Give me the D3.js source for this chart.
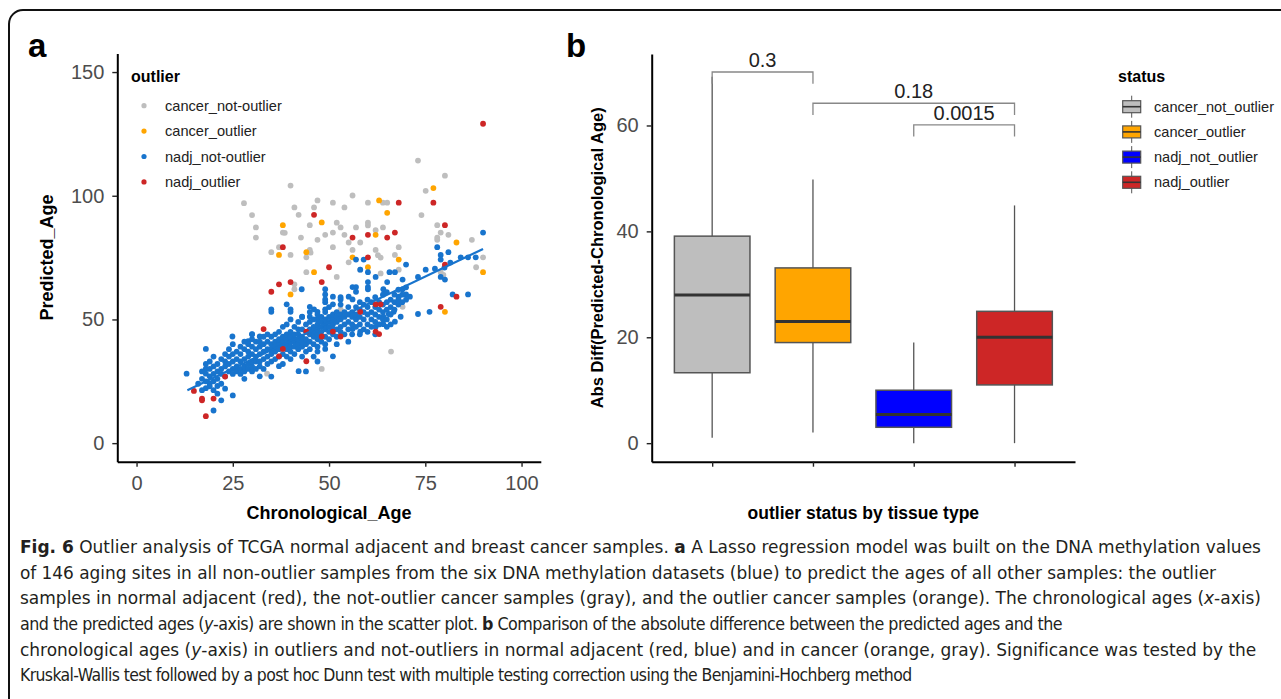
<!DOCTYPE html>
<html>
<head>
<meta charset="utf-8">
<script src="https://cdn.jsdelivr.net/npm/d3@7"></script>
<style>
body { margin: 0; background: #fff; }
svg { display: block; font-family: "Liberation Sans", Arial, sans-serif; }
</style>
</head>
<body>
<div id="fig"></div>
<script>

/*
 *  Data
 */

// panel a - scatter (chronological age, predicted age)
var groupNames = ["cancer_not-outlier", "cancer_outlier", "nadj_not-outlier", "nadj_outlier"];
var groupColors = ["#BEBEBE", "#FFA500", "#1874CD", "#CD2626"];

var grayPts = [
    [73.1,114.2],[80.1,108.1],[40.0,104.1],[27.9,97.0],[47.0,98.1],[51.0,97.2],[56.1,100.1],[60.1,97.2],
    [64.0,97.2],[65.1,97.2],[75.1,102.0],[30.0,92.2],[31.0,87.2],[31.0,83.1],[41.0,95.3],[42.1,92.3],
    [46.1,95.3],[45.0,88.1],[52.0,89.1],[54.0,95.3],[53.0,87.2],[57.0,87.2],[60.1,89.1],[60.1,88.0],
    [62.1,86.1],[64.0,87.2],[74.0,92.2],[78.1,88.1],[79.0,85.1],[78.1,83.1],[78.1,82.2],[81.0,84.2],
    [87.1,82.2],[38.0,85.1],[42.7,83.1],[47.0,82.2],[49.0,84.2],[51.0,85.1],[54.0,84.2],[55.1,81.1],
    [58.1,81.1],[35.0,77.2],[37.0,79.2],[40.0,76.1],[44.1,75.1],[45.0,78.1],[51.0,79.2],[56.1,78.1],
    [55.1,73.1],[62.1,78.1],[62.7,76.0],[63.4,75.0],[67.1,76.1],[68.1,79.2],[88.2,71.1],[90.0,75.1],
    [79.0,69.1],[79.7,68.0],[41.0,64.2],[41.0,62.2],[44.1,69.1],[52.0,67.2],[58.1,70.1],[63.4,68.6],
    [68.1,70.1],[69.1,55.1],[66.1,37.0],[48.1,30.0],[33.9,28.1],[53.0,54.1],[38.5,85.0],[45.2,77.0]
];

var orangePts = [
    [77.1,103.1],[63.0,98.1],[65.1,93.1],[38.0,88.1],[48.1,89.2],[62.1,84.2],[83.1,81.1],[37.0,76.1],
    [44.1,77.2],[56.1,75.1],[60.1,71.1],[68.1,74.2],[46.1,69.1],[40.0,60.1],[90.0,69.1],[80.1,53.1]
];

var bluePts = [
    // loose points around the band
    [90.0,85.1],[78.1,79.2],[81.0,77.2],[79.0,76.1],[79.0,74.2],[70.0,72.2],[75.1,70.1],[73.1,67.2],
    [84.2,75.1],[86.1,75.1],[88.1,75.1],[79.0,67.2],[80.1,66.1],[82.1,60.1],[86.1,60.1],[73.1,52.2],
    [76.1,53.1],[57.0,74.2],[59.0,74.2],[58.1,70.1],[60.1,69.1],[62.1,67.2],[65.7,69.1],[67.1,69.1],
    [65.1,65.1],[69.1,66.1],[69.1,62.2],[70.0,60.1],[68.1,59.2],[56.1,63.1],[57.0,63.1],[57.0,61.2],
    [60.1,65.1],[60.1,63.1],[60.1,62.2],[64.1,62.2],[42.9,62.2],[49.0,62.2],[49.0,60.1],[49.0,58.1],
    [51.0,59.2],[53.0,58.1],[51.0,56.1],[55.1,59.2],[56.1,58.1],[35.0,54.1],[35.0,53.1],[39.0,56.1],
    [40.0,54.1],[40.0,53.1],[45.0,55.1],[46.1,54.1],[47.0,53.1],[49.0,54.1],[43.0,51.1],[45.0,51.1],
    [47.0,50.1],[66.8,53.1],[64.1,51.1],[65.5,52.2],[71.0,59.2],[67.1,49.1],[68.6,51.1],[58.1,45.1],
    [56.1,46.1],[64.1,48.1],[62.1,47.0],[51.0,35.1],[47.0,37.0],[49.0,38.1],[42.1,29.1],[35.0,26.9],
    [37.0,31.1],[30.0,44.1],[32.0,43.1],[29.0,41.2],[24.9,43.1],[18.0,38.1],[13.0,28.1],[20.0,13.2],
    [22.0,17.3],[25.0,19.3],[18.0,30.1],[18.0,28.1],[17.0,21.4],[18.0,22.2],[19.0,24.1],[20.0,21.4],
    [21.0,23.1],[80.0,71.0],[77.5,70.5],[81.5,73.0],
    // dense band
    [16,24],[17,26],[17,29],[18,25],[18,32],[19,27],[19,30],[19,33],[20,25],[20,28],[20,31],[20,35],
    [21,26],[21,29],[21,32],[22,24],[22,28],[22,30],[22,34],[23,27],[23,31],[23,33],[23,36],[24,29],
    [24,32],[24,35],[24,38],[25,28],[25,30],[25,33],[25,36],[25,40],
    [26,29],[26,31],[26,34],[26,37],[27,28],[27,30],[27,33],[27,36],[27,39],[28,29],[28,31],[28,34],
    [28,38],[28,41],[29,30],[29,32],[29,35],[29,37],[29,40],[30,29],[30,31],[30,33],[30,36],[30,39],
    [30,42],[31,30],[31,33],[31,35],[31,38],[31,41],[32,31],[32,33],[32,36],[32,39],[32,41],[33,30],
    [33,34],[33,37],[33,40],[33,43],[34,32],[34,35],[34,38],[34,41],[34,44],
    [35,33],[35,36],[35,38],[35,40],[35,43],[36,34],[36,37],[36,39],[36,41],[36,44],[37,35],[37,38],
    [37,40],[37,42],[37,45],[38,36],[38,39],[38,41],[38,43],[38,47],[39,35],[39,38],[39,40],[39,42],
    [39,44],[39,48],[40,37],[40,39],[40,41],[40,43],[40,45],[40,50],[41,36],[41,39],[41,41],[41,42],
    [41,44],[41,47],[42,38],[42,40],[42,42],[42,44],[42,46],[42,49],[43,35],[43,39],[43,41],[43,43],
    [43,46],[43,51],[44,37],[44,40],[44,42],[44,45],[44,48],
    [45,38],[45,41],[45,44],[45,46],[45,49],[46,40],[46,43],[46,45],[46,47],[46,50],[47,39],[47,42],
    [47,44],[47,46],[47,48],[47,52],[48,41],[48,45],[48,47],[48,49],[48,51],[49,40],[49,43],[49,46],
    [49,48],[49,50],[49,53],[50,42],[50,45],[50,47],[50,49],[50,51],[50,55],[51,44],[51,46],[51,48],
    [51,50],[51,52],[52,43],[52,46],[52,49],[52,51],[52,53],[53,45],[53,47],[53,50],[53,52],[53,56],
    [54,44],[54,48],[54,51],[54,53],
    [55,46],[55,49],[55,52],[55,55],[56,44],[56,48],[56,51],[56,53],[57,47],[57,50],[57,52],[57,55],
    [58,48],[58,51],[58,54],[58,57],[59,46],[59,50],[59,53],[59,56],[60,48],[60,52],[60,55],[60,58],
    [61,47],[61,50],[61,53],[61,57],[62,49],[62,52],[62,55],[62,59],[63,48],[63,51],[63,54],[63,57],
    [64,50],[64,53],[64,56],[64,60],
    [65,47],[65,50],[65,54],[65,57],[65,61],[66,52],[66,55],[66,58],[67,54],[67,57],[67,60],[68,56],
    [68,58],[68,62],[69,57],[69,60],[70,58],[70,63],
    [44,29],[40,34],[38,32],[46,35],[55,41],[58,44],[62,44],[49,57],[53,59],[45,53],[30,44],[28,26],
    [23,22],[21,20],[19,23],[32,27],[47,33],[52,40],[60,45],[66,48]
];

var redPts = [
    [90.0,129.1],[68.1,97.2],[77.1,97.2],[46.1,92.3],[80.1,88.1],[60.1,84.2],[67.1,85.1],[56.1,83.1],
    [65.1,83.1],[38.0,79.2],[60.1,75.1],[80.1,72.2],[50.0,71.1],[40.0,65.1],[48.1,65.1],[37.0,64.2],
    [35.0,61.2],[83.1,59.2],[79.0,55.1],[62.1,56.1],[63.4,56.1],[58.1,53.1],[33.0,46.1],[44.1,45.1],
    [51.0,45.1],[62.1,45.1],[63.0,44.1],[48.1,43.1],[53.0,43.1],[38.0,38.1],[37.0,35.1],[44.1,33.1],
    [23.0,26.9],[14.9,21.1],[17.0,17.3],[17.0,18.0],[20.0,18.0],[18.0,10.9]
];

var fitLine = [[13.2, 21.4], [90.0, 78.5]];
var xTicksA = [0, 25, 50, 75, 100];
var yTicksA = [0, 50, 100, 150];

// panel b - box plot of abs(predicted - chronological)
var boxNames = ["cancer_not_outlier", "cancer_outlier", "nadj_not_outlier", "nadj_outlier"];
var boxFills = ["#BEBEBE", "#FFA500", "#0000FF", "#CD2626"];
var whiskerLo = [1.0, 2.0, 0.0, 0.0];
var q1 = [13.3, 19.0, 3.0, 11.0];
var medians = [28.0, 23.0, 5.4, 20.0];
var q3 = [39.1, 33.1, 10.0, 24.9];
var whiskerHi = [69.2, 49.8, 19.0, 44.9];
var yTicksB = [0, 20, 40, 60];

// Dunn test brackets
var pairs = [[0, 1], [1, 3], [2, 3]];
var pLabels = ["0.3", "0.18", "0.0015"];
var bracketY = [70.1, 64.2, 60.1];

// caption, line by line (text, style)
var captionLines = [
    [["Fig. 6", "b"], [" Outlier analysis of TCGA normal adjacent and breast cancer samples. ", ""], ["a", "b"], [" A Lasso regression model was built on the DNA methylation values", ""]],
    [["of 146 aging sites in all non-outlier samples from the six DNA methylation datasets (blue) to predict the ages of all other samples: the outlier", ""]],
    [["samples in normal adjacent (red), the not-outlier cancer samples (gray), and the outlier cancer samples (orange). The chronological ages (", ""], ["x", "i"], ["-axis)", ""]],
    [["and the predicted ages (", ""], ["y", "i"], ["-axis) are shown in the scatter plot. ", ""], ["b", "b"], [" Comparison of the absolute difference between the predicted ages and the", ""]],
    [["chronological ages (", ""], ["y", "i"], ["-axis) in outliers and not-outliers in normal adjacent (red, blue) and in cancer (orange, gray). Significance was tested by the", ""]],
    [["Kruskal-Wallis test followed by a post hoc Dunn test with multiple testing correction using the Benjamini-Hochberg method", ""]]
];
var captionEnds = [1262, 1217, 1262, 1062, 1257, 912];


/*
 *  Drawing
 */

var W = 1281, H = 699;

var svg = d3.select("#fig").append("svg")
    .attr("width", W)
    .attr("height", H);

svg.append("rect").attr("width", W).attr("height", H).attr("fill", "#fff");

// figure frame
svg.append("rect")
    .attr("x", 9).attr("y", 10)
    .attr("width", 1400).attr("height", 800)
    .attr("rx", 14)
    .attr("fill", "none")
    .attr("stroke", "#111")
    .attr("stroke-width", 2);

// panel letters
svg.append("text").attr("x", 28).attr("y", 57).text("a")
    .attr("font-size", 33).attr("font-weight", "bold").attr("fill", "#000");
svg.append("text").attr("x", 566).attr("y", 57).text("b")
    .attr("font-size", 33).attr("font-weight", "bold").attr("fill", "#000");

function styleAxis(g) {
    g.select(".domain").attr("stroke", "#000").attr("stroke-width", 2);
    g.selectAll(".tick line").attr("stroke", "#222").attr("stroke-width", 1.4);
    g.selectAll(".tick text").attr("fill", "#4D4D4D").attr("font-size", 20)
        .attr("font-family", "'Liberation Sans', Arial, sans-serif");
}

/* ---------- panel a ---------- */

var xA = d3.scaleLinear().domain([-5, 105]).range([117.3, 540.8]);
var yA = d3.scaleLinear().domain([-7.5, 157.5]).range([461.7, 53.5]);

var gA = svg.append("g");

var series = [grayPts, orangePts, bluePts, redPts];
series.forEach(function (pts, i) {
    gA.append("g").selectAll("circle")
        .data(pts)
        .enter().append("circle")
        .attr("cx", function (d) { return xA(d[0]); })
        .attr("cy", function (d) { return yA(d[1]); })
        .attr("r", 2.9)
        .attr("fill", groupColors[i]);
});

gA.append("path")
    .datum(fitLine)
    .attr("d", d3.line().x(function (d) { return xA(d[0]); }).y(function (d) { return yA(d[1]); }))
    .attr("stroke", "#1874CD")
    .attr("stroke-width", 2.2)
    .attr("fill", "none");

gA.append("g")
    .attr("transform", "translate(0," + yA.range()[0] + ")")
    .call(d3.axisBottom(xA).tickValues(xTicksA).tickSize(5).tickSizeOuter(0).tickPadding(9))
    .call(styleAxis);

gA.append("g")
    .attr("transform", "translate(" + xA.range()[0] + ",0)")
    .call(d3.axisLeft(yA).tickValues(yTicksA).tickSize(5).tickSizeOuter(0).tickPadding(8))
    .call(styleAxis);

gA.append("text")
    .attr("x", (xA.range()[0] + xA.range()[1]) / 2).attr("y", 519)
    .attr("text-anchor", "middle")
    .attr("font-size", 18).attr("font-weight", "bold").attr("fill", "#000")
    .text("Chronological_Age");

gA.append("text")
    .attr("transform", "translate(53," + (yA.range()[0] + yA.range()[1]) / 2 + ") rotate(-90)")
    .attr("text-anchor", "middle")
    .attr("font-size", 18).attr("font-weight", "bold").attr("fill", "#000")
    .text("Predicted_Age");

// legend a
var legA = gA.append("g");
legA.append("text").attr("x", 131).attr("y", 82)
    .attr("font-size", 16).attr("font-weight", "bold").attr("fill", "#000").text("outlier");
groupNames.forEach(function (name, i) {
    var yy = 105.7 + i * 25.4;
    legA.append("circle").attr("cx", 144).attr("cy", yy).attr("r", 2.6).attr("fill", groupColors[i]);
    legA.append("text").attr("x", 165).attr("y", yy).attr("dy", "0.35em")
        .attr("font-size", 14.6).attr("fill", "#222").text(name);
});

/* ---------- panel b ---------- */

var xB = d3.scaleLinear().domain([0.4, 4.6]).range([651.7, 1075]);
var yB = d3.scaleLinear().domain([-3.5, 73.5]).range([461.7, 54]);
var boxW = 0.75 * (xB(2) - xB(1));

var gB = svg.append("g");

var boxes = gB.selectAll(".box")
    .data(boxNames)
    .enter().append("g")
    .attr("class", "box");

boxes.append("line")
    .attr("x1", function (d, i) { return xB(i + 1); })
    .attr("x2", function (d, i) { return xB(i + 1); })
    .attr("y1", function (d, i) { return yB(whiskerLo[i]); })
    .attr("y2", function (d, i) { return yB(whiskerHi[i]); })
    .attr("stroke", "#555").attr("stroke-width", 1.3);

boxes.append("rect")
    .attr("x", function (d, i) { return xB(i + 1) - boxW / 2; })
    .attr("width", boxW)
    .attr("y", function (d, i) { return yB(q3[i]); })
    .attr("height", function (d, i) { return yB(q1[i]) - yB(q3[i]); })
    .attr("fill", function (d, i) { return boxFills[i]; })
    .attr("stroke", "#555").attr("stroke-width", 1.5);

boxes.append("line")
    .attr("x1", function (d, i) { return xB(i + 1) - boxW / 2; })
    .attr("x2", function (d, i) { return xB(i + 1) + boxW / 2; })
    .attr("y1", function (d, i) { return yB(medians[i]); })
    .attr("y2", function (d, i) { return yB(medians[i]); })
    .attr("stroke", "#333").attr("stroke-width", 3);

// significance brackets
var tip = 2.2;
pairs.forEach(function (p, k) {
    var x1 = xB(p[0] + 1), x2 = xB(p[1] + 1), yy = yB(bracketY[k]);
    gB.append("path")
        .attr("d", "M" + x1 + "," + yB(bracketY[k] - tip) + "V" + yy + "H" + x2 + "V" + yB(bracketY[k] - tip))
        .attr("fill", "none").attr("stroke", "#888").attr("stroke-width", 1.3);
    gB.append("text")
        .attr("x", (x1 + x2) / 2).attr("y", yy - 5)
        .attr("text-anchor", "middle")
        .attr("font-size", 20).attr("fill", "#222")
        .text(pLabels[k]);
});

gB.append("g")
    .attr("transform", "translate(0," + yB.range()[0] + ")")
    .call(d3.axisBottom(xB).tickValues([1, 2, 3, 4]).tickFormat("").tickSize(5).tickSizeOuter(0))
    .call(styleAxis);

gB.append("g")
    .attr("transform", "translate(" + xB.range()[0] + ",0)")
    .call(d3.axisLeft(yB).tickValues(yTicksB).tickSize(5).tickSizeOuter(0).tickPadding(8))
    .call(styleAxis);

gB.append("text")
    .attr("x", (xB.range()[0] + xB.range()[1]) / 2).attr("y", 519)
    .attr("text-anchor", "middle")
    .attr("font-size", 17.5).attr("font-weight", "bold").attr("fill", "#000")
    .text("outlier status by tissue type");

gB.append("text")
    .attr("transform", "translate(603," + (yB.range()[0] + yB.range()[1]) / 2 + ") rotate(-90)")
    .attr("text-anchor", "middle")
    .attr("font-size", 16.5).attr("font-weight", "bold").attr("fill", "#000")
    .text("Abs Diff(Predicted-Chronological Age)");

// legend b
var legB = gB.append("g");
legB.append("text").attr("x", 1118).attr("y", 82)
    .attr("font-size", 16).attr("font-weight", "bold").attr("fill", "#000").text("status");
boxNames.forEach(function (name, i) {
    var yy = 106.7 + i * 25.2, cx = 1131.7;
    legB.append("line").attr("x1", cx).attr("x2", cx).attr("y1", yy - 11).attr("y2", yy + 11)
        .attr("stroke", "#555").attr("stroke-width", 1);
    legB.append("rect").attr("x", cx - 9).attr("y", yy - 6).attr("width", 18).attr("height", 12)
        .attr("fill", boxFills[i]).attr("stroke", "#555").attr("stroke-width", 1.2);
    legB.append("line").attr("x1", cx - 9).attr("x2", cx + 9).attr("y1", yy).attr("y2", yy)
        .attr("stroke", "#333").attr("stroke-width", 1.6);
    legB.append("text").attr("x", 1154).attr("y", yy).attr("dy", "0.35em")
        .attr("font-size", 14.6).attr("fill", "#222").text(name);
});

/* ---------- caption ---------- */

var capX = 20;
var capTexts = captionLines.map(function (segs, li) {
    var t = svg.append("text")
        .attr("x", capX).attr("y", 553 + li * 25.7)
        .attr("font-size", 17.5)
        .attr("font-family", "'Liberation Sans Narrow', 'DejaVu Sans Condensed', 'Liberation Sans', sans-serif")
        .attr("fill", "#231F20");
    segs.forEach(function (s) {
        var ts = t.append("tspan").text(s[0]);
        if (s[1] === "b") ts.attr("font-weight", "bold");
        if (s[1] === "i") ts.attr("font-style", "italic");
    });
    return t;
});

// base squeeze comes from line 1; lines that end shorter in the figure get
// half of the extra squeeze from the glyphs and half from tighter tracking
var natW = capTexts.map(function (t) { return t.node().getComputedTextLength(); });
var baseK = (captionEnds[0] - capX) / natW[0];
capTexts.forEach(function (t, li) {
    var r = ((captionEnds[li] - capX) / natW[li]) / baseK;
    var g = baseK * (r < 1 ? Math.sqrt(r) : 1);
    var full = captionLines[li].map(function (s) { return s[0]; }).join("");
    var ls = ((captionEnds[li] - capX) / g - natW[li]) / full.length;
    t.style("letter-spacing", ls + "px");
    t.attr("transform", "translate(" + capX + ",0) scale(" + g + ",1) translate(" + (-capX) + ",0)");
});

</script>
</body>
</html>
